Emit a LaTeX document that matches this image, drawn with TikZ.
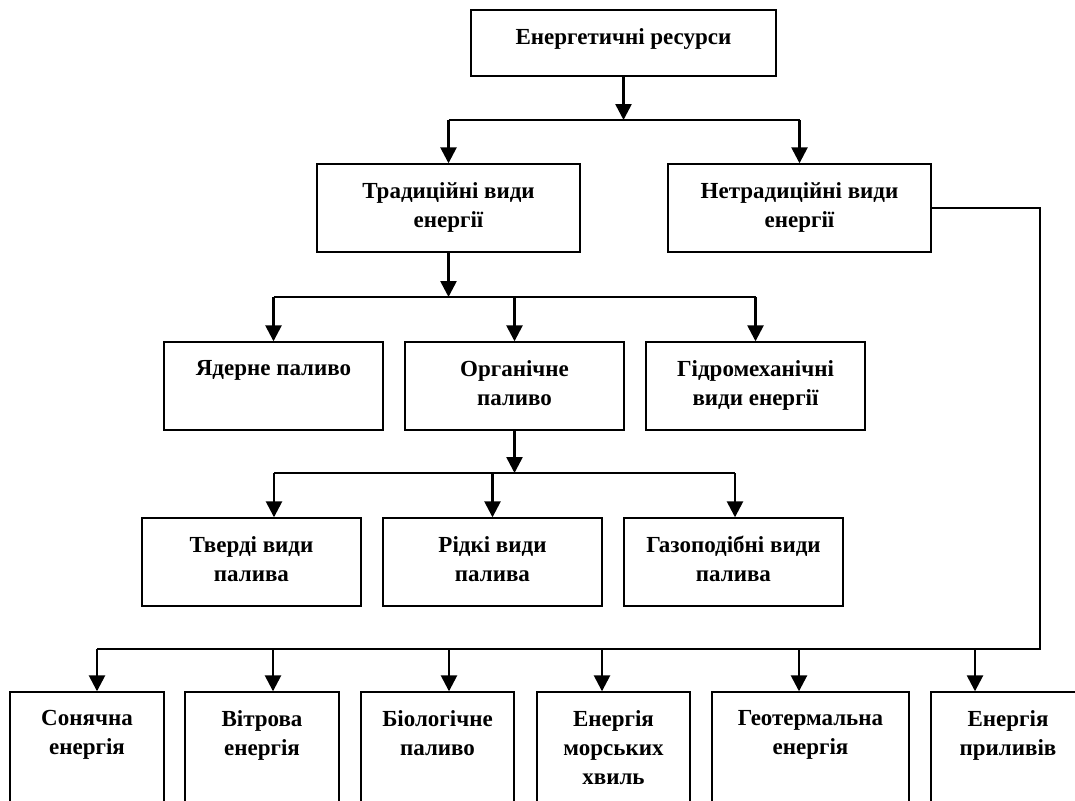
\documentclass[tikz,border=0pt]{standalone}
\usepackage{fontspec}
\setmainfont{Liberation Serif}
\usetikzlibrary{arrows.meta,positioning}

\tikzset{
  box/.style={draw,line width=1.4pt,inner sep=0pt},
  txt/.style={anchor=north,align=center,inner sep=0pt,yshift=-19pt,font=\bfseries\fontsize{23}{29}\selectfont},
  link/.style={line width=1.4pt},
  arr/.style={line width=2.6pt,-{Triangle[length=16pt,width=16pt]}}
}

\begin{document}
\begin{tikzpicture}[x=1pt,y=-1pt]
\useasboundingbox (0,0) rectangle (1075,800);

% top level
\node[box,minimum width=305pt,minimum height=66pt,label={[txt]north:{Енергетичні ресурси}}] (res) at (623.5,43) {};
\node[box,minimum width=263pt,minimum height=88pt,label={[txt]north:{Традиційні види\\енергії}}] (trad) at (448.5,208) {};
\node[box,minimum width=263pt,minimum height=88pt,label={[txt]north:{Нетрадиційні види\\енергії}}] (netrad) at (799.5,208) {};

% traditional
\node[box,minimum width=219pt,minimum height=88pt,label={[txt]north:{Ядерне паливо}}] (nuc) at (273.5,386) {};
\node[box,minimum width=219pt,minimum height=88pt,label={[txt]north:{Органічне\\паливо}}] (org) at (514.5,386) {};
\node[box,minimum width=219pt,minimum height=88pt,label={[txt]north:{Гідромеханічні\\види енергії}}] (hydro) at (755.5,386) {};

% fuels
\node[box,minimum width=219pt,minimum height=88pt,label={[txt]north:{Тверді види\\палива}}] (solid) at (251.5,562) {};
\node[box,minimum width=219pt,minimum height=88pt,label={[txt]north:{Рідкі види\\палива}}] (liquid) at (492.5,562) {};
\node[box,minimum width=219pt,minimum height=88pt,label={[txt]north:{Газоподібні види\\палива}}] (gas) at (733.5,562) {};

% non-traditional
\node[box,minimum width=154pt,minimum height=138pt,label={[txt]north:{Сонячна\\енергія}}] (sun) at (87,761) {};
\node[box,minimum width=154pt,minimum height=138pt,label={[txt]north:{Вітрова\\енергія}}] (wind) at (262,761) {};
\node[box,minimum width=153pt,minimum height=138pt,label={[txt]north:{Біологічне\\паливо}}] (bio) at (437.5,761) {};
\node[box,minimum width=153pt,minimum height=138pt,label={[txt]north:{Енергія\\морських\\хвиль}}] (wave) at (613.5,761) {};
\node[box,minimum width=197pt,minimum height=138pt,label={[txt]north:{Геотермальна\\енергія}}] (geo) at (810.5,761) {};
\node[box,minimum width=154pt,minimum height=138pt,label={[txt]north:{Енергія\\приливів}}] (tide) at (1008,761) {};

% junctions
\coordinate (j1) at (623.5,120);
\coordinate (j2) at (448.5,297);
\coordinate (j3) at (514.5,473);
\coordinate (b1) at (97,649);
\coordinate (turn) at (1040,649);

\draw[arr] (res) -- (j1);
\draw[link] (trad.north |- j1) -- (netrad.north |- j1);
\draw[arr] (trad.north |- j1) -- (trad.north);
\draw[arr] (netrad.north |- j1) -- (netrad.north);

\draw[arr] (trad) -- (j2);
\draw[link] (nuc.north |- j2) -- (hydro.north |- j2);
\draw[arr] (nuc.north |- j2) -- (nuc.north);
\draw[arr] (org.north |- j2) -- (org.north);
\draw[arr] (hydro.north |- j2) -- (hydro.north);

\draw[arr] (org) -- (j3);
\draw[link] (274,473) -- (735,473);
\draw[arr] (274,473) -- (274,473 |- solid.north);
\draw[arr] (liquid.north |- j3) -- (liquid.north);
\draw[arr] (735,473) -- (735,473 |- gas.north);

\draw[link] (netrad.east) -| (turn) -- (b1);
\foreach \x/\n in {97/sun,273/wind,449/bio,602/wave,799/geo,975/tide}
  \draw[arr] (\x,649) -- (\x,649 |- \n.north);
\end{tikzpicture}
\end{document}
